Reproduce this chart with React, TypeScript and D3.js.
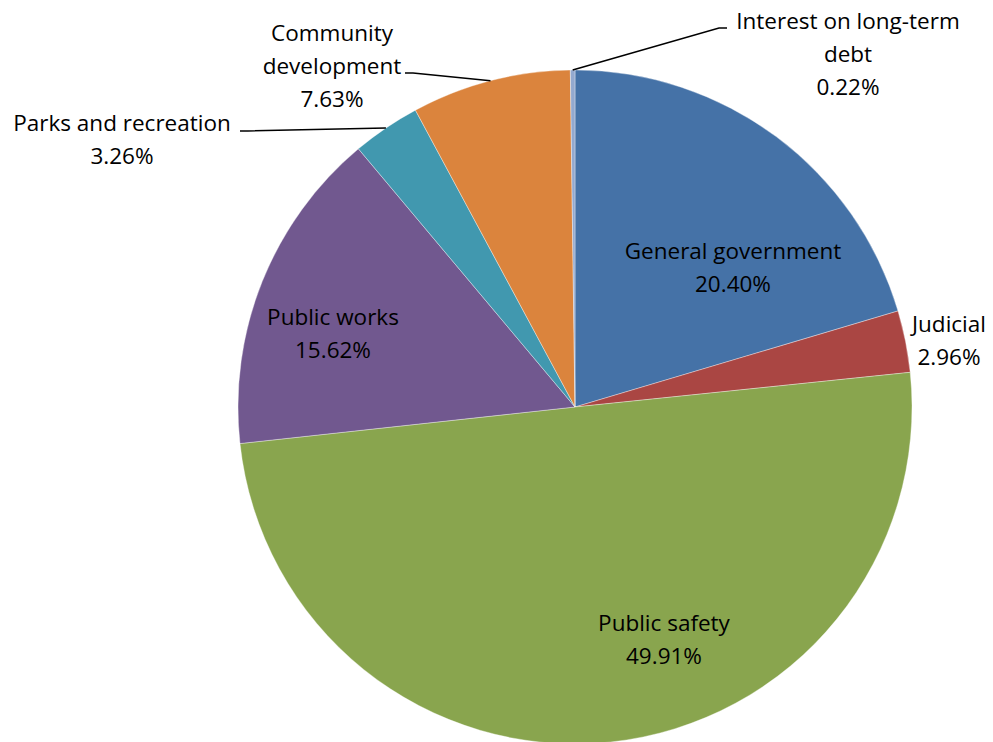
import React from "react";
import * as d3 from "d3";

const categories = [
  "General government",
  "Judicial",
  "Public safety",
  "Public works",
  "Parks and recreation",
  "Community development",
  "Interest on long-term debt",
];
const values = [20.4, 2.96, 49.91, 15.62, 3.26, 7.63, 0.22];
const labelLines = [
  ["General government", "20.40%"],
  ["Judicial", "2.96%"],
  ["Public safety", "49.91%"],
  ["Public works", "15.62%"],
  ["Parks and recreation", "3.26%"],
  ["Community", "development", "7.63%"],
  ["Interest on long-term", "debt", "0.22%"],
];
const colors = ["#4572A7", "#AA4643", "#89A54E", "#71588F", "#4198AF", "#DB843D", "#93A9CF"];

// layout: label anchor (center x, first baseline y) and whether it has a leader
const W = 993, H = 742;
const cx = 575, cy = 407, R = 337;
const labelLayout = [
  { x: 733, y: 259, leader: null },
  { x: 949, y: 332, leader: null },
  { x: 664, y: 631, leader: null },
  { x: 333, y: 325, leader: null },
  { x: 122, y: 131, leader: { x: 240, y: 131 } },
  { x: 332, y: 41, leader: { x: 405, y: 73 } },
  { x: 848, y: 29, leader: { x: 727, y: 28 } },
];
const lineH = 33;

export default function App() {
  const pie = d3.pie<number>().sort(null).value((d) => d);
  const arcs = pie(values);
  const arc = d3.arc<d3.PieArcDatum<number>>().innerRadius(0).outerRadius(R);
  return (
    <svg width={W} height={H} style={{ position: "absolute", left: 0, top: 0, background: "#fff" }}>
      <g transform={`translate(${cx},${cy})`}>
        {arcs.map((a, i) => (
          <path key={categories[i]} d={arc(a) || ""} fill={colors[i]} stroke="#ffffff" strokeWidth={0.6} strokeOpacity={0.6} />
        ))}
      </g>
      {arcs.map((a, i) => {
        const L = labelLayout[i];
        if (!L.leader) return null;
        const mid = (a.startAngle + a.endAngle) / 2;
        const ex = cx + R * Math.sin(mid);
        const ey = cy - R * Math.cos(mid);
        const dir = L.leader.x > ex ? -1 : 1;
        const kx = L.leader.x + dir * 8;
        return (
          <polyline
            key={"l" + i}
            points={`${L.leader.x},${L.leader.y} ${kx},${L.leader.y} ${ex},${ey}`}
            fill="none"
            stroke="#000"
            strokeWidth={1.5}
          />
        );
      })}
      {labelLines.map((lines, i) => (
        <text
          key={"t" + i}
          x={labelLayout[i].x}
          textAnchor="middle"
          fontFamily="'Open Sans', Lato, sans-serif"
          fontSize={22.5}
          fill="#000"
        >
          {lines.map((s, j) => (
            <tspan key={j} x={labelLayout[i].x} y={labelLayout[i].y + j * lineH}>
              {s}
            </tspan>
          ))}
        </text>
      ))}
    </svg>
  );
}
